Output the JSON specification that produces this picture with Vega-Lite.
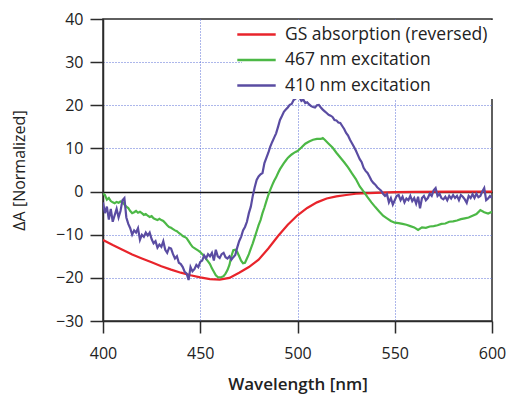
{
  "$schema": "https://vega.github.io/schema/vega-lite/v6.json",
  "width": 389,
  "height": 302,
  "autosize": {"type": "none"},
  "padding": {"left": 103, "top": 19, "right": 16, "bottom": 75},
  "background": "white",
  "config": {
    "font": "Open Sans",
    "view": {"stroke": "#2b2b2b", "strokeWidth": 1.5}
  },
  "datasets": {
    "gs": [
      {"wl": 400, "v": -11.2}, {"wl": 405, "v": -12.4}, {"wl": 410, "v": -13.5}, {"wl": 415, "v": -14.6},
      {"wl": 420, "v": -15.5}, {"wl": 425, "v": -16.4}, {"wl": 430, "v": -17.3}, {"wl": 435, "v": -18.1},
      {"wl": 440, "v": -18.8}, {"wl": 445, "v": -19.4}, {"wl": 450, "v": -19.9}, {"wl": 455, "v": -20.3},
      {"wl": 460, "v": -20.4}, {"wl": 465, "v": -20.0}, {"wl": 470, "v": -18.8}, {"wl": 475, "v": -17.5},
      {"wl": 480, "v": -15.8}, {"wl": 485, "v": -13.2}, {"wl": 490, "v": -10.3}, {"wl": 495, "v": -7.7},
      {"wl": 500, "v": -5.5}, {"wl": 505, "v": -3.8}, {"wl": 510, "v": -2.5}, {"wl": 515, "v": -1.6},
      {"wl": 520, "v": -1.1}, {"wl": 525, "v": -0.8}, {"wl": 530, "v": -0.5}, {"wl": 540, "v": -0.3},
      {"wl": 550, "v": -0.15}, {"wl": 560, "v": -0.05}, {"wl": 580, "v": 0}, {"wl": 600, "v": 0}
    ],
    "g467": [
      {"wl": 400, "v": -0.5}, {"wl": 401, "v": -0.8}, {"wl": 402, "v": -1.9}, {"wl": 403, "v": -1.5},
      {"wl": 404, "v": -2.2}, {"wl": 405, "v": -2.5}, {"wl": 406, "v": -2.7}, {"wl": 407, "v": -2.4},
      {"wl": 408, "v": -2.6}, {"wl": 409, "v": -2.3}, {"wl": 410, "v": -2.4}, {"wl": 411, "v": -3.0},
      {"wl": 412, "v": -3.5}, {"wl": 413, "v": -3.8}, {"wl": 414, "v": -4.5}, {"wl": 415, "v": -5.0},
      {"wl": 416, "v": -4.8}, {"wl": 417, "v": -4.5}, {"wl": 418, "v": -4.9}, {"wl": 419, "v": -4.7},
      {"wl": 420, "v": -5.0}, {"wl": 421, "v": -5.4}, {"wl": 422, "v": -5.2}, {"wl": 423, "v": -5.6},
      {"wl": 424, "v": -5.9}, {"wl": 425, "v": -5.7}, {"wl": 426, "v": -6.2}, {"wl": 427, "v": -6.4},
      {"wl": 428, "v": -6.6}, {"wl": 429, "v": -6.3}, {"wl": 430, "v": -6.6}, {"wl": 431, "v": -6.8},
      {"wl": 432, "v": -7.3}, {"wl": 433, "v": -7.8}, {"wl": 434, "v": -8.2}, {"wl": 435, "v": -8.4},
      {"wl": 436, "v": -8.7}, {"wl": 437, "v": -9.0}, {"wl": 438, "v": -9.2}, {"wl": 439, "v": -9.6},
      {"wl": 440, "v": -9.9}, {"wl": 441, "v": -10.3}, {"wl": 442, "v": -10.5}, {"wl": 443, "v": -10.8},
      {"wl": 444, "v": -11.5}, {"wl": 445, "v": -12.2}, {"wl": 446, "v": -12.8}, {"wl": 447, "v": -13.1},
      {"wl": 448, "v": -13.4}, {"wl": 449, "v": -13.7}, {"wl": 450, "v": -14.0}, {"wl": 451, "v": -14.5},
      {"wl": 452, "v": -15.0}, {"wl": 453, "v": -15.6}, {"wl": 454, "v": -16.2}, {"wl": 455, "v": -16.8},
      {"wl": 456, "v": -17.8}, {"wl": 457, "v": -18.6}, {"wl": 458, "v": -19.4}, {"wl": 459, "v": -19.8},
      {"wl": 460, "v": -19.9}, {"wl": 461, "v": -19.8}, {"wl": 462, "v": -19.6}, {"wl": 463, "v": -19.0},
      {"wl": 464, "v": -18.2}, {"wl": 465, "v": -17.0}, {"wl": 466, "v": -15.0}, {"wl": 467, "v": -13.6},
      {"wl": 468, "v": -13.5}, {"wl": 469, "v": -14.0}, {"wl": 470, "v": -15.0}, {"wl": 471, "v": -16.0},
      {"wl": 472, "v": -16.6}, {"wl": 473, "v": -16.5}, {"wl": 474, "v": -15.5}, {"wl": 475, "v": -14.5},
      {"wl": 476, "v": -13.2}, {"wl": 477, "v": -12.0}, {"wl": 478, "v": -10.6}, {"wl": 479, "v": -9.2},
      {"wl": 480, "v": -7.8}, {"wl": 481, "v": -6.6}, {"wl": 482, "v": -5.0}, {"wl": 483, "v": -3.7},
      {"wl": 484, "v": -2.2}, {"wl": 485, "v": -0.8}, {"wl": 486, "v": 0.4}, {"wl": 487, "v": 1.5},
      {"wl": 488, "v": 2.5}, {"wl": 489, "v": 3.3}, {"wl": 490, "v": 4.3}, {"wl": 491, "v": 5.2},
      {"wl": 492, "v": 5.9}, {"wl": 493, "v": 6.6}, {"wl": 494, "v": 7.2}, {"wl": 495, "v": 7.8},
      {"wl": 496, "v": 8.2}, {"wl": 497, "v": 8.6}, {"wl": 498, "v": 8.9}, {"wl": 499, "v": 9.2},
      {"wl": 500, "v": 9.4}, {"wl": 502, "v": 10.2}, {"wl": 504, "v": 11.1}, {"wl": 506, "v": 11.6},
      {"wl": 508, "v": 12.0}, {"wl": 510, "v": 12.2}, {"wl": 512, "v": 12.2}, {"wl": 513, "v": 12.4},
      {"wl": 514, "v": 12.0}, {"wl": 516, "v": 11.1}, {"wl": 518, "v": 10.2}, {"wl": 520, "v": 9.0},
      {"wl": 522, "v": 7.9}, {"wl": 524, "v": 6.8}, {"wl": 526, "v": 5.6}, {"wl": 528, "v": 4.2},
      {"wl": 530, "v": 2.9}, {"wl": 532, "v": 1.2}, {"wl": 534, "v": 0.0}, {"wl": 536, "v": -1.3},
      {"wl": 538, "v": -2.5}, {"wl": 540, "v": -3.6}, {"wl": 542, "v": -4.6}, {"wl": 544, "v": -5.6},
      {"wl": 546, "v": -6.2}, {"wl": 548, "v": -6.8}, {"wl": 550, "v": -7.2}, {"wl": 552, "v": -7.3},
      {"wl": 554, "v": -7.5}, {"wl": 556, "v": -7.7}, {"wl": 558, "v": -8.0}, {"wl": 560, "v": -8.3},
      {"wl": 562, "v": -8.9}, {"wl": 564, "v": -8.3}, {"wl": 566, "v": -8.4}, {"wl": 568, "v": -8.1},
      {"wl": 570, "v": -8.0}, {"wl": 572, "v": -7.8}, {"wl": 574, "v": -7.5}, {"wl": 576, "v": -7.4},
      {"wl": 578, "v": -7.0}, {"wl": 580, "v": -6.9}, {"wl": 582, "v": -6.7}, {"wl": 584, "v": -6.4},
      {"wl": 586, "v": -6.2}, {"wl": 588, "v": -6.0}, {"wl": 590, "v": -5.6}, {"wl": 592, "v": -5.2},
      {"wl": 594, "v": -4.3}, {"wl": 596, "v": -4.8}, {"wl": 598, "v": -5.1}, {"wl": 600, "v": -4.7}
    ],
    "g410": [
      {"wl": 400, "v": -2.5}, {"wl": 401, "v": -5.0}, {"wl": 402, "v": -3.5}, {"wl": 403, "v": -6.5},
      {"wl": 404, "v": -4.0}, {"wl": 405, "v": -7.0}, {"wl": 406, "v": -5.5}, {"wl": 407, "v": -4.0},
      {"wl": 408, "v": -6.0}, {"wl": 409, "v": -4.5}, {"wl": 410, "v": -2.0}, {"wl": 411, "v": -1.5},
      {"wl": 412, "v": -6.0}, {"wl": 413, "v": -7.5}, {"wl": 414, "v": -8.5}, {"wl": 415, "v": -10.0},
      {"wl": 416, "v": -9.0}, {"wl": 417, "v": -9.5}, {"wl": 418, "v": -8.5}, {"wl": 419, "v": -11.2},
      {"wl": 420, "v": -10.0}, {"wl": 421, "v": -10.5}, {"wl": 422, "v": -9.5}, {"wl": 423, "v": -10.2},
      {"wl": 424, "v": -9.5}, {"wl": 425, "v": -11.0}, {"wl": 426, "v": -12.0}, {"wl": 427, "v": -11.5},
      {"wl": 428, "v": -13.0}, {"wl": 429, "v": -12.3}, {"wl": 430, "v": -12.8}, {"wl": 431, "v": -11.5},
      {"wl": 432, "v": -13.5}, {"wl": 433, "v": -14.2}, {"wl": 434, "v": -13.0}, {"wl": 435, "v": -13.2},
      {"wl": 436, "v": -14.5}, {"wl": 437, "v": -15.5}, {"wl": 438, "v": -15.0}, {"wl": 439, "v": -16.5},
      {"wl": 440, "v": -16.8}, {"wl": 441, "v": -17.5}, {"wl": 442, "v": -18.6}, {"wl": 443, "v": -19.0},
      {"wl": 444, "v": -20.5}, {"wl": 445, "v": -17.5}, {"wl": 446, "v": -18.5}, {"wl": 447, "v": -18.0},
      {"wl": 448, "v": -17.0}, {"wl": 449, "v": -17.5}, {"wl": 450, "v": -16.3}, {"wl": 451, "v": -16.0},
      {"wl": 452, "v": -14.8}, {"wl": 453, "v": -15.5}, {"wl": 454, "v": -14.5}, {"wl": 455, "v": -15.0},
      {"wl": 456, "v": -14.2}, {"wl": 457, "v": -16.0}, {"wl": 458, "v": -13.5}, {"wl": 459, "v": -15.0},
      {"wl": 460, "v": -15.4}, {"wl": 461, "v": -14.5}, {"wl": 462, "v": -14.2}, {"wl": 463, "v": -15.2},
      {"wl": 464, "v": -15.5}, {"wl": 465, "v": -15.0}, {"wl": 466, "v": -15.8}, {"wl": 467, "v": -15.2},
      {"wl": 468, "v": -14.7}, {"wl": 469, "v": -13.0}, {"wl": 470, "v": -11.5}, {"wl": 471, "v": -10.5},
      {"wl": 472, "v": -9.0}, {"wl": 473, "v": -8.2}, {"wl": 474, "v": -7.0}, {"wl": 475, "v": -5.0},
      {"wl": 476, "v": -3.5}, {"wl": 477, "v": -1.0}, {"wl": 478, "v": 1.0}, {"wl": 479, "v": 2.7},
      {"wl": 480, "v": 3.5}, {"wl": 481, "v": 4.0}, {"wl": 482, "v": 4.3}, {"wl": 483, "v": 6.6},
      {"wl": 484, "v": 7.8}, {"wl": 485, "v": 9.0}, {"wl": 486, "v": 10.4}, {"wl": 487, "v": 11.5},
      {"wl": 488, "v": 12.5}, {"wl": 489, "v": 13.5}, {"wl": 490, "v": 15.0}, {"wl": 491, "v": 16.6},
      {"wl": 492, "v": 17.5}, {"wl": 493, "v": 18.5}, {"wl": 494, "v": 19.0}, {"wl": 495, "v": 19.5},
      {"wl": 496, "v": 20.1}, {"wl": 497, "v": 20.3}, {"wl": 498, "v": 21.2}, {"wl": 499, "v": 21.5},
      {"wl": 500, "v": 22.2}, {"wl": 501, "v": 21.8}, {"wl": 502, "v": 21.0}, {"wl": 503, "v": 21.3},
      {"wl": 504, "v": 20.5}, {"wl": 505, "v": 20.7}, {"wl": 506, "v": 20.2}, {"wl": 507, "v": 19.8},
      {"wl": 508, "v": 19.6}, {"wl": 509, "v": 19.5}, {"wl": 510, "v": 20.0}, {"wl": 511, "v": 20.1},
      {"wl": 512, "v": 19.5}, {"wl": 513, "v": 19.0}, {"wl": 514, "v": 18.6}, {"wl": 515, "v": 18.2},
      {"wl": 516, "v": 17.8}, {"wl": 517, "v": 17.6}, {"wl": 518, "v": 17.3}, {"wl": 519, "v": 16.6},
      {"wl": 520, "v": 16.5}, {"wl": 521, "v": 16.0}, {"wl": 522, "v": 15.9}, {"wl": 523, "v": 15.2},
      {"wl": 524, "v": 14.5}, {"wl": 525, "v": 13.6}, {"wl": 526, "v": 13.0}, {"wl": 527, "v": 12.0},
      {"wl": 528, "v": 11.2}, {"wl": 529, "v": 10.4}, {"wl": 530, "v": 9.5}, {"wl": 531, "v": 8.5},
      {"wl": 532, "v": 7.5}, {"wl": 533, "v": 6.8}, {"wl": 534, "v": 5.5}, {"wl": 535, "v": 4.8},
      {"wl": 536, "v": 4.3}, {"wl": 537, "v": 3.5}, {"wl": 538, "v": 2.6}, {"wl": 539, "v": 2.0},
      {"wl": 540, "v": 1.6}, {"wl": 541, "v": 1.0}, {"wl": 542, "v": 0.6}, {"wl": 543, "v": 0.2},
      {"wl": 544, "v": -0.5}, {"wl": 545, "v": -1.0}, {"wl": 546, "v": -0.6}, {"wl": 547, "v": -2.5},
      {"wl": 548, "v": -1.5}, {"wl": 549, "v": -3.0}, {"wl": 550, "v": -2.0}, {"wl": 551, "v": -1.0},
      {"wl": 552, "v": -0.8}, {"wl": 553, "v": -2.0}, {"wl": 554, "v": -1.2}, {"wl": 555, "v": -2.5},
      {"wl": 556, "v": -1.6}, {"wl": 557, "v": -2.0}, {"wl": 558, "v": -1.0}, {"wl": 559, "v": -2.2},
      {"wl": 560, "v": -1.5}, {"wl": 561, "v": -2.8}, {"wl": 562, "v": -1.2}, {"wl": 563, "v": -3.9},
      {"wl": 564, "v": -1.5}, {"wl": 565, "v": -1.0}, {"wl": 566, "v": -2.0}, {"wl": 567, "v": -1.5},
      {"wl": 568, "v": -0.5}, {"wl": 569, "v": -1.0}, {"wl": 570, "v": 0.3}, {"wl": 571, "v": 0.8},
      {"wl": 572, "v": -1.0}, {"wl": 573, "v": -0.5}, {"wl": 574, "v": -1.5}, {"wl": 575, "v": -1.8},
      {"wl": 576, "v": -1.2}, {"wl": 577, "v": -2.0}, {"wl": 578, "v": -1.0}, {"wl": 579, "v": -1.6},
      {"wl": 580, "v": -0.8}, {"wl": 581, "v": -1.5}, {"wl": 582, "v": -1.0}, {"wl": 583, "v": -2.0},
      {"wl": 584, "v": -0.8}, {"wl": 585, "v": -1.2}, {"wl": 586, "v": -1.8}, {"wl": 587, "v": -2.6},
      {"wl": 588, "v": -1.0}, {"wl": 589, "v": -1.5}, {"wl": 590, "v": -0.6}, {"wl": 591, "v": -1.5},
      {"wl": 592, "v": -0.5}, {"wl": 593, "v": -1.3}, {"wl": 594, "v": -1.0}, {"wl": 595, "v": 0.0},
      {"wl": 596, "v": 0.8}, {"wl": 597, "v": -2.0}, {"wl": 598, "v": -1.6}, {"wl": 599, "v": -1.0},
      {"wl": 600, "v": -1.5}
    ]
  },
  "encoding": {
    "x": {
      "field": "wl", "type": "quantitative",
      "scale": {"domain": [400, 600], "nice": false, "zero": false},
      "axis": {
        "values": [400, 450, 500, 550, 600],
        "title": "Wavelength [nm]",
        "titleFontSize": 17, "titleFontWeight": 600, "titleColor": "#222", "titlePadding": 15,
        "labelFontSize": 16, "labelColor": "#222", "labelPadding": 12, "labelFlush": false,
        "tickSize": 12, "tickColor": "#2b2b2b", "tickWidth": 1.5,
        "domainColor": "#2b2b2b", "domainWidth": 1.5,
        "grid": true, "gridColor": "#5a6fd6", "gridDash": [1, 2], "gridWidth": 1,
        "gridOpacity": {"condition": {"test": "datum.value == 400 || datum.value == 600", "value": 0}, "value": 1}
      }
    },
    "y": {
      "field": "v", "type": "quantitative",
      "scale": {"domain": [-30, 40], "nice": false, "zero": false},
      "axis": {
        "values": [-30, -20, -10, 0, 10, 20, 30, 40],
        "title": "ΔA [Normalized]",
        "titleFontSize": 16, "titleFontWeight": "normal", "titleColor": "#222", "titlePadding": 28,
        "labelFontSize": 16, "labelColor": "#222", "labelPadding": 7,
        "tickSize": 13, "tickColor": "#2b2b2b", "tickWidth": 1.5,
        "domainColor": "#2b2b2b", "domainWidth": 1.5,
        "grid": true,
        "gridColor": {"condition": {"test": "datum.value == 0", "value": "#111111"}, "value": "#5a6fd6"},
        "gridDash": {"condition": {"test": "datum.value == 0", "value": []}, "value": [1, 2]},
        "gridWidth": {"condition": {"test": "datum.value == 0", "value": 1.5}, "value": 1},
        "gridOpacity": {"condition": {"test": "datum.value == -30 || datum.value == 40", "value": 0}, "value": 1}
      }
    },
    "color": {
      "field": "series", "type": "nominal",
      "scale": {
        "domain": ["GS absorption (reversed)", "467 nm excitation", "410 nm excitation"],
        "range": ["#e8242b", "#4cb846", "#5a4ca2"]
      },
      "legend": {
        "title": null, "orient": "none", "legendX": 139, "legendY": 1, "zindex": 0,
        "fillColor": "white", "padding": 5,
        "symbolType": "M-2.4,0H2.4", "symbolSize": 256, "symbolStrokeWidth": 2.5,
        "labelFontSize": 17.5, "labelColor": "#222", "labelOffset": 19, "labelLimit": 400,
        "rowPadding": 7.5
      }
    }
  },
  "layer": [
    {"data": {"name": "gs"}, "transform": [{"calculate": "'GS absorption (reversed)'", "as": "series"}], "mark": {"type": "line", "strokeWidth": 2.2, "clip": true}},
    {"data": {"name": "g467"}, "transform": [{"calculate": "'467 nm excitation'", "as": "series"}], "mark": {"type": "line", "strokeWidth": 2.2, "clip": true}},
    {"data": {"name": "g410"}, "transform": [{"calculate": "'410 nm excitation'", "as": "series"}], "mark": {"type": "line", "strokeWidth": 2.2, "clip": true}}
  ]
}
